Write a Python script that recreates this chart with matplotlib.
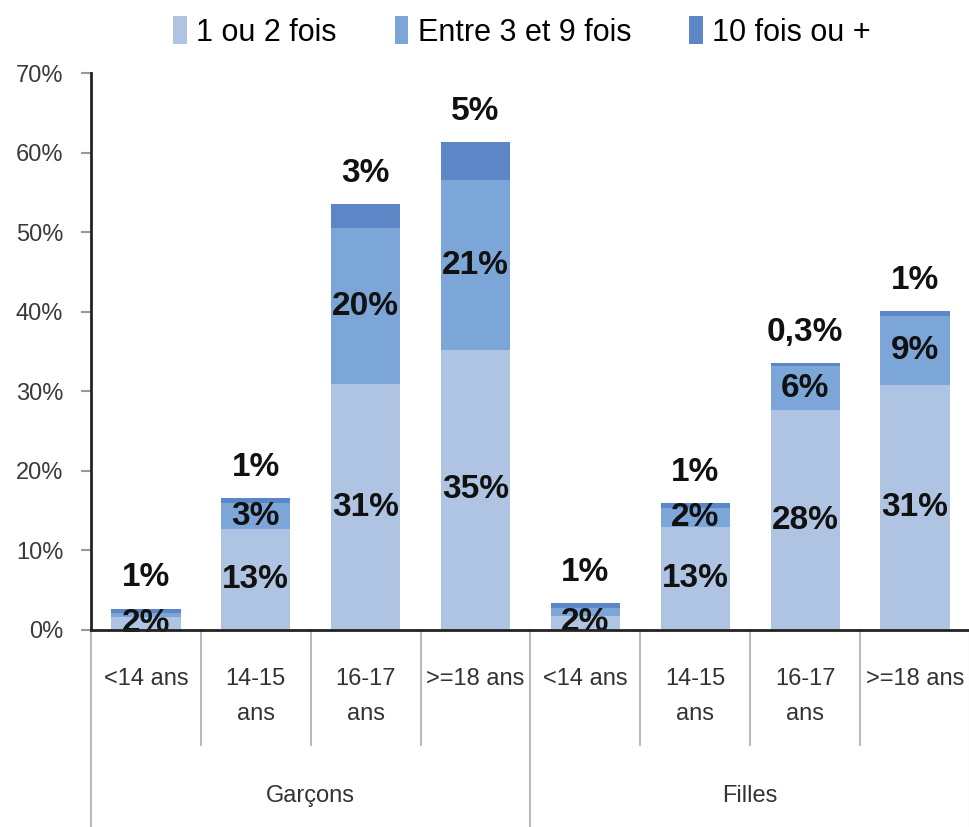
import numpy as np
import matplotlib.pyplot as plt
from matplotlib.patches import Patch

plt.rcParams['font.family'] = ['Liberation Sans', 'DejaVu Sans']

# age groups, boys then girls
categories = ['<14 ans', '14-15\nans', '16-17\nans', '>=18 ans',
              '<14 ans', '14-15\nans', '16-17\nans', '>=18 ans']
groups = ['Garçons', 'Filles']
series = ['1 ou 2 fois', 'Entre 3 et 9 fois', '10 fois ou +']

# percentages
once_twice = [1.6, 12.7, 30.9, 35.2, 1.8, 13.0, 27.6, 30.8]
three_nine = [0.5, 3.2, 19.6, 21.3, 1.0, 2.3, 5.6, 8.7]
ten_plus = [0.6, 0.7, 3.0, 4.8, 0.6, 0.7, 0.3, 0.6]
show_mid_label = [False, True, True, True, False, True, True, True]

colors = ['#AFC4E3', '#7DA6D8', '#5C86C5']


def fmt(v):
    if v < 0.5:
        return f"{v:.1f}".replace('.', ',') + '%'
    return f"{int(v + 0.5)}%"


fig = plt.figure(figsize=(9.7, 8.27), dpi=100)
ax = fig.add_axes([91 / 970, 1 - 630 / 827, 879 / 970, 557 / 827])

x = np.arange(len(categories))
w = 0.63
b1 = np.array(once_twice)
b2 = b1 + np.array(three_nine)
tot = b2 + np.array(ten_plus)

ax.bar(x, once_twice, w, color=colors[0], zorder=2)
ax.bar(x, three_nine, w, bottom=b1, color=colors[1], zorder=2)
ax.bar(x, ten_plus, w, bottom=b2, color=colors[2], zorder=2)

lbl = dict(ha='center', va='center', fontsize=24, fontweight='bold', color='#111111', zorder=4)
for i in range(len(x)):
    ax.text(x[i], once_twice[i] / 2, fmt(once_twice[i]), **lbl)
    if show_mid_label[i]:
        ax.text(x[i], b1[i] + three_nine[i] / 2, fmt(three_nine[i]), **lbl)
    ax.annotate(fmt(ten_plus[i]), (x[i], tot[i]), xytext=(0, 22),
                textcoords='offset points', **lbl)

ax.set_xlim(-0.5, len(x) - 0.5)
ax.set_ylim(0, 70)
ax.set_yticks(np.arange(0, 71, 10))
ax.set_yticklabels([f"{t}%" for t in range(0, 71, 10)], fontsize=17, color='#3A3A3A')
ax.tick_params(axis='y', length=7, width=1.5, color='#999999', pad=13)
ax.set_xticks([])

for s in ['top', 'right']:
    ax.spines[s].set_visible(False)
ax.spines['left'].set_linewidth(2)
ax.spines['bottom'].set_linewidth(2)
ax.spines['left'].set_color('#222222')
ax.spines['bottom'].set_color('#222222')
ax.spines['bottom'].set_zorder(5)

# category table under the axis
tr = ax.get_xaxis_transform()
h = 557
for b in np.arange(-0.5, len(x), 1):
    if b in (-0.5, 3.5, 7.5):
        y_end = -(827 - 630) / h
    else:
        y_end = -(745 - 630) / h
    ax.plot([b, b], [0, y_end], transform=tr, color='#BBBBBB', lw=1.5, clip_on=False)

for i, c in enumerate(categories):
    ax.text(x[i], -38 / h, c, transform=tr, ha='center', va='top', fontsize=17,
            color='#333333', linespacing=1.75)

for j, g in enumerate(groups):
    ax.text(1.5 + 4 * j, -(796 - 630) / h, g, transform=tr, ha='center', va='center',
            fontsize=17, color='#333333')

handles = [Patch(facecolor=c, edgecolor='none') for c in colors]
fig.legend(handles, series, loc='center', bbox_to_anchor=(0.538, 1 - 32 / 827), ncol=3,
           frameon=False, fontsize=22, handlelength=0.45, handleheight=1.0,
           handletextpad=0.3, columnspacing=1.9)

fig.savefig('out.png', dpi=100, facecolor='white')
